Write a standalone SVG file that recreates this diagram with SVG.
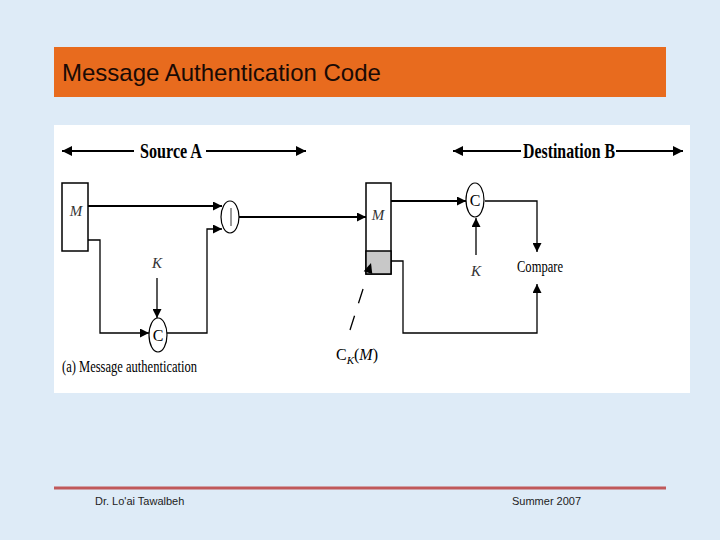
<svg xmlns="http://www.w3.org/2000/svg" width="720" height="540" viewBox="0 0 720 540">
<style>
.ln{fill:none;stroke:#000;stroke-width:2}
.thin{fill:none;stroke:#000;stroke-width:1.3}
.box{fill:#fff;stroke:#000;stroke-width:1.5}
.op{fill:#fff;stroke:#000;stroke-width:1.2}
.hd{font-family:"Liberation Serif",serif;font-weight:bold;font-size:21px;fill:#000}
.tx{font-family:"Liberation Serif",serif;font-size:16px;fill:#000}
.it{font-family:"Liberation Serif",serif;font-style:italic;font-size:15px;fill:#333}
.ft{font-family:"Liberation Sans",Arial,sans-serif;font-size:11px;fill:#222}
</style>
<defs>
<marker id="ah" viewBox="0 0 10 10" refX="10" refY="5" markerWidth="10" markerHeight="9" markerUnits="userSpaceOnUse" orient="auto"><path d="M0,0 L10,5 L0,10 Z" fill="#000"/></marker>
<marker id="ahb" viewBox="0 0 10 10" refX="10" refY="5" markerWidth="11" markerHeight="10" markerUnits="userSpaceOnUse" orient="auto"><path d="M0,0 L10,5 L0,10 Z" fill="#000"/></marker>
</defs>
<rect x="0" y="0" width="720" height="540" fill="#deebf7"/>
<g id="title">
<rect x="54" y="47" width="612" height="50" fill="#e86b1e"/>
<text x="62" y="81" font-family="Liberation Sans, Arial, sans-serif" font-size="24" fill="#1a0a05">Message Authentication Code</text>
</g>
<rect x="54" y="125" width="636" height="268" fill="#fff"/>

<g id="headers">
<text class="hd" x="140" y="158" textLength="62" lengthAdjust="spacingAndGlyphs">Source A</text>
<text class="hd" x="523" y="158" textLength="92" lengthAdjust="spacingAndGlyphs">Destination B</text>
</g>

<g id="m-source">
<rect class="box" x="62" y="183" width="26" height="68"/>
<text class="it" x="76" y="216" text-anchor="middle">M</text>
</g>
<g id="concat">
<ellipse class="op" cx="230" cy="217" rx="9" ry="16"/>
<line x1="231" y1="208" x2="231" y2="226" stroke="#333" stroke-width="1"/>
</g>
<g id="c-source">
<ellipse class="op" cx="158" cy="335" rx="9" ry="17"/>
<text class="tx" x="158" y="341" text-anchor="middle" fill="#444">C</text>
</g>
<g id="k-source">
<text class="it" x="157" y="268" text-anchor="middle">K</text>
</g>
<g id="caption">
<text class="tx" x="62" y="372" textLength="135" lengthAdjust="spacingAndGlyphs" fill="#333">(a) Message authentication</text>
</g>
<g id="m-dest">
<rect class="box" x="366" y="183" width="25" height="91"/>
<rect x="366" y="251" width="25" height="23" fill="#c8c8c8" stroke="#000" stroke-width="1.5"/>
<text class="it" x="378" y="220" text-anchor="middle">M</text>
</g>
<g id="ck-label">
<text class="tx" x="336" y="360" fill="#333">C<tspan font-size="11" font-style="italic" dy="4">K</tspan><tspan dy="-4">(</tspan><tspan font-style="italic">M</tspan>)</text>
</g>
<g id="c-dest">
<ellipse class="op" cx="475" cy="200" rx="9" ry="17"/>
<text class="tx" x="475" y="206" text-anchor="middle" fill="#444">C</text>
</g>
<g id="k-dest">
<text class="it" x="476" y="276" text-anchor="middle">K</text>
</g>
<g id="compare">
<text class="tx" x="517" y="272" textLength="46" lengthAdjust="spacingAndGlyphs" fill="#333">Compare</text>
</g>

<g id="connectors">
<line class="ln" x1="134" y1="151" x2="62" y2="151" marker-end="url(#ahb)"/>
<line class="ln" x1="206" y1="151" x2="306" y2="151" marker-end="url(#ahb)"/>
<line class="ln" x1="521" y1="151" x2="453" y2="151" marker-end="url(#ahb)"/>
<line class="ln" x1="616" y1="151" x2="683" y2="151" marker-end="url(#ahb)"/>
<line class="ln" x1="88" y1="206" x2="222" y2="206" marker-end="url(#ah)"/>
<polyline class="thin" points="88,240 100,240 100,333 149,333" marker-end="url(#ah)"/>
<line class="thin" x1="157" y1="278" x2="157" y2="318" marker-end="url(#ah)"/>
<polyline class="thin" points="167,333 207,333 207,229 222,229" marker-end="url(#ah)"/>
<line class="ln" x1="239" y1="217" x2="366" y2="217" marker-end="url(#ah)"/>
<line class="ln" x1="391" y1="201" x2="466" y2="201" marker-end="url(#ah)"/>
<line class="thin" x1="476" y1="255" x2="476" y2="218" marker-end="url(#ah)"/>
<polyline class="thin" points="485,201 537,201 537,252" marker-end="url(#ah)"/>
<polyline class="thin" points="391,261 403,261 403,333 537,333 537,284" marker-end="url(#ah)"/>
<line class="thin" x1="350" y1="330" x2="364" y2="286" stroke-dasharray="15,13"/>
<polygon points="371,263 372.3,274 363.7,271.3" fill="#000"/>
</g>

<g id="footer">
<line x1="54" y1="488" x2="666" y2="488" stroke="#c0585a" stroke-width="3"/>
<text class="ft" x="95" y="505">Dr. Lo'ai Tawalbeh</text>
<text class="ft" x="512" y="505">Summer 2007</text>
</g>
</svg>
